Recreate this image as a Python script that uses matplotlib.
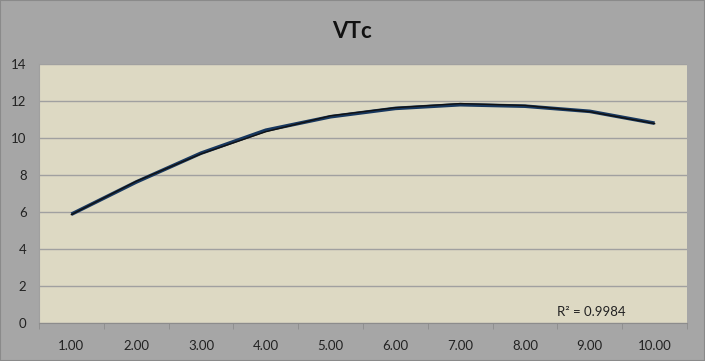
import matplotlib
matplotlib.use("Agg")
import matplotlib.pyplot as plt
import numpy as np

plt.rcParams['font.family'] = ['Lato', 'DejaVu Sans']

categories = ["1.00", "2.00", "3.00", "4.00", "5.00", "6.00", "7.00", "8.00", "9.00", "10.00"]
vtc = [5.88, 7.62, 9.18, 10.42, 11.15, 11.6, 11.8, 11.72, 11.44, 10.8]
trend = [5.86, 7.66, 9.14, 10.34, 11.2, 11.64, 11.86, 11.76, 11.42, 10.78]
title = "VTc"
r2_label = "R² = 0.9984"

fig = plt.figure(figsize=(7.05, 3.61), dpi=100)
fig.patch.set_facecolor('#A6A6A6')
ax = fig.add_axes([39/705, 38/361, 648/705, 259/361])
ax.set_facecolor('#DDD9C3')

x = np.arange(1, len(categories) + 1)
ax.plot(x, vtc, color='#17375E', lw=2.6, solid_capstyle='butt', zorder=3)
ax.plot(x, trend, color='#111111', lw=1.0, zorder=4)

ax.set_xlim(0.5, len(categories) + 0.5)
ax.set_ylim(0, 14)
ax.set_yticks(range(0, 15, 2))
ax.set_xticks(x)
ax.set_xticklabels(categories)
ax.set_xticks(np.arange(0.5, len(categories) + 1, 1), minor=True)
ax.tick_params(axis='x', which='major', length=0, pad=12, labelsize=9.5, colors='#222222')
ax.tick_params(axis='x', which='minor', length=4, color='#8C8C8C', direction='out')
ax.tick_params(axis='y', length=0, pad=9, labelsize=9.5, colors='#222222')
ax.grid(axis='y', color='#A0A0A0', lw=1.0)
ax.set_axisbelow(True)
for s in ['top', 'right']:
    ax.spines[s].set_visible(False)
ax.spines['left'].set_color('#A0A0A0')
ax.spines['bottom'].set_color('#8C8C8C')

ax.text(9.02, 0.6, r2_label, ha='center', va='center', fontsize=9.5, color='#222222')
fig.text(0.5, 1 - 31/361, title, ha='center', va='center', fontsize=16, fontweight='bold', color='#111111')

fig.add_artist(plt.Rectangle((0, 0), 1, 1, transform=fig.transFigure, fill=False, edgecolor='#8A8A8A', lw=1.5))
fig.savefig('out.png', dpi=100, facecolor=fig.get_facecolor())
